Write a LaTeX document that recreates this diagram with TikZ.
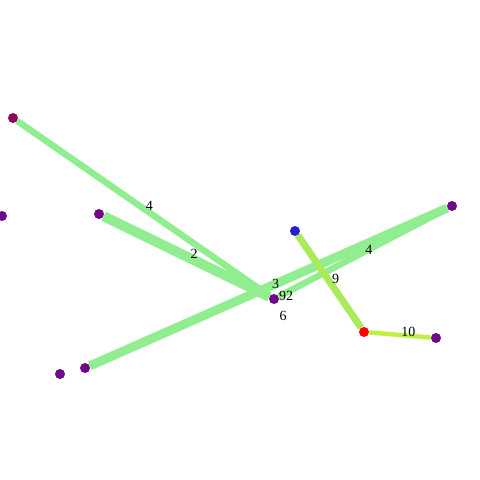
\documentclass[tikz,border=0pt]{standalone}
\usepackage{fontspec}
\setmainfont{Liberation Serif}
\usetikzlibrary{positioning, backgrounds}
\definecolor{vpurple}{RGB}{112,6,138}
\definecolor{vmagenta}{RGB}{139,10,90}
\definecolor{vblue}{RGB}{34,34,204}
\definecolor{vred}{RGB}{255,0,0}
\definecolor{egreen}{RGB}{144,238,144}
\definecolor{elime}{RGB}{170,235,90}
\definecolor{eyellow}{RGB}{192,240,72}
\tikzset{x=1pt, y=-1pt,
vertex/.style={circle, fill=vpurple, minimum size=10pt, inner sep=0pt},
lbl/.style={font=\fontsize{14}{14}\selectfont, inner sep=1pt, anchor=west, xshift=-2pt, yshift=3pt},
link/.style={draw=egreen, line width=#1},
}

\begin{document}
\begin{tikzpicture}
\useasboundingbox (0,0) rectangle (480,480);
    \node[vertex, fill=vmagenta] (a) at (13,118) {};
    \node[vertex] (b) at (2,216) {};
    \node[vertex] (c) at (99,214) {};
    \node[vertex] (d) at (274,299) {};
    \node[vertex, fill=vblue] (e) at (295,231) {};
    \node[vertex] (f) at (452,206) {};
    \node[vertex, fill=vred] (g) at (364,332) {};
    \node[vertex] (h) at (436,338) {};
    \node[vertex] (i) at (60,374) {};
    \node[vertex] (j) at (85,368) {};

    \begin{scope}[on background layer]
    \draw
    (a) edge[link=6.5pt] node[lbl]{4} (d)
    (c) edge[link=10pt] node[lbl]{2} (d)
    (j) edge[link=9pt] node[lbl]{3} (f)
    (d) edge[link=6.5pt] node[lbl]{4} (f)
    (e) edge[link=7pt, draw=elime] node[lbl]{9} (g)
    (g) edge[link=4.5pt, draw=eyellow] node[lbl]{10} (h)
    ;
    \end{scope}

    \node[lbl, anchor=center, xshift=0pt, yshift=0pt] (t92) at (288,299) {92};
    \node[lbl, anchor=center, xshift=0pt, yshift=0pt] (t6) at (285,319) {6};
\end{tikzpicture}
\end{document}
